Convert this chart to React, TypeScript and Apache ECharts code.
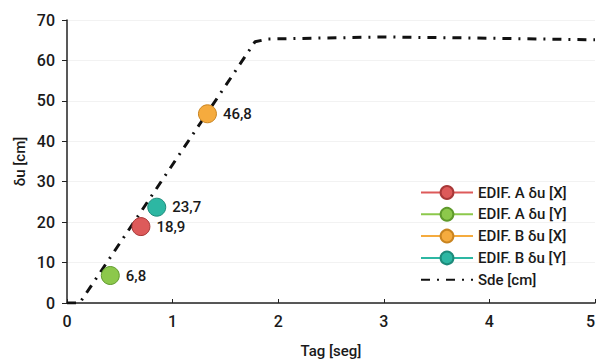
import React, { useEffect, useRef } from "react";
import * as echarts from "echarts";

const seriesNames = ["EDIF. A δu [X]", "EDIF. A δu [Y]", "EDIF. B δu [X]", "EDIF. B δu [Y]"];
const pointX = [0.7, 0.41, 1.33, 0.85];
const pointY = [18.9, 6.8, 46.8, 23.7];
const pointColors = ["#dd5a5a", "#8cc84b", "#f5ab3e", "#2db7a3"];
const pointBorders = ["#a83838", "#5f9a2c", "#c98420", "#1d8a7a"];

const sdeX = [0, 0.12, 1.78, 1.9, 3.0, 4.0, 5.0];
const sdeY = [0, 0, 64.6, 65.3, 65.8, 65.5, 65.1];

const xTicks = [0, 1, 2, 3, 4, 5];
const yTicks = [0, 10, 20, 30, 40, 50, 60, 70];

export default function App() {
  const ref = useRef<HTMLDivElement>(null);
  useEffect(() => {
    const chart = echarts.init(ref.current!, undefined, { renderer: "svg" });
    const font = "Roboto";
    const txt = { fontSize: 15, fontFamily: font, fontWeight: 500, color: "#1a1a1a" };
    const tick = { ...txt, fontSize: 16 };
    const pointSeries = seriesNames.map((name, i) => ({
      name,
      type: "line",
      data: [[pointX[i], pointY[i]]],
      symbol: "circle",
      symbolSize: 18,
      itemStyle: { color: pointColors[i], borderColor: pointBorders[i], borderWidth: 1 },
      lineStyle: { color: pointColors[i], width: 3 },
      label: {
        show: true,
        position: "right",
        distance: 6,
        ...txt,
        formatter: (p: any) => String(p.value[1]).replace(".", ","),
      },
      z: 5,
    }));
    chart.setOption({
      animation: false,
      backgroundColor: "#ffffff",
      grid: { left: 67, right: 3, top: 20, bottom: 57, outerBoundsMode: "none", containLabel: false },
      legend: {
        data: [...seriesNames, { name: "Sde [cm]", itemStyle: { opacity: 0 } }],
        orient: "vertical",
        left: 420,
        top: 185,
        padding: 0,
        itemWidth: 52,
        itemHeight: 16,
        itemGap: 6.8,
        textStyle: { ...txt },
      },
      xAxis: {
        type: "value",
        min: 0,
        max: 5,
        interval: 1,
        name: "Tag [seg]",
        nameLocation: "middle",
        nameGap: 40,
        nameMoveOverlap: false,
        nameTextStyle: { ...txt },
        axisLine: { lineStyle: { color: "#222", width: 1.5 } },
        axisTick: { inside: true, length: 4, lineStyle: { color: "#222" } },
        axisLabel: { ...tick, margin: 10, alignMaxLabel: "right", formatter: (v: number) => (xTicks.includes(v) ? String(v) : "") },
        splitLine: { show: false },
      },
      yAxis: {
        type: "value",
        min: 0,
        max: 70,
        interval: 10,
        name: "δu [cm]",
        nameLocation: "middle",
        nameGap: 40,
        nameMoveOverlap: false,
        nameTextStyle: { ...txt },
        axisLine: { show: true, lineStyle: { color: "#222", width: 1.5 } },
        axisTick: { show: true, length: 5, lineStyle: { color: "#222" } },
        axisLabel: { ...tick, margin: 12, formatter: (v: number) => (yTicks.includes(v) ? String(v) : "") },
        splitLine: { show: true, lineStyle: { color: "#f2f2f2" } },
      },
      series: [
        {
          name: "Sde [cm]",
          type: "line",
          data: sdeX.map((x, i) => [x, sdeY[i]]),
          showSymbol: false,
          symbol: "none",
          lineStyle: { color: "#111", width: 3, type: [9, 7, 2, 7] },
          itemStyle: { color: "#111" },
          z: 3,
        },
        ...pointSeries,
      ],
    });
    return () => chart.dispose();
  }, []);
  return <div ref={ref} style={{ width: 598, height: 360, position: "absolute", left: 0, top: 0 }} />;
}
